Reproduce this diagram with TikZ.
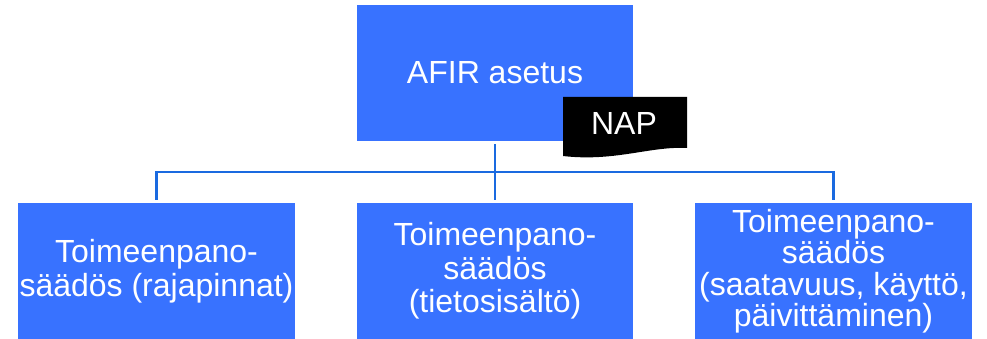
\documentclass[tikz,border=0pt]{standalone}
\usepackage{fontspec}
\setmainfont{Liberation Sans}
\definecolor{boxblue}{HTML}{3872FF}
\definecolor{lineblue}{HTML}{1A6AE0}
\begin{document}
\begin{tikzpicture}[x=1pt,y=1pt,
  blk/.style={fill=boxblue, draw=none, text=white, inner sep=0pt, align=center,
    minimum height=136pt, font=\fontsize{32}{33.5}\selectfont},
  conn/.style={draw=lineblue, line width=2.2pt, shorten <=3pt, shorten >=3pt}]
\useasboundingbox (0,0) rectangle (987,-339);
\node[blk, minimum width=276pt] (afir) at (495,-73) {AFIR asetus};
\node[blk, minimum width=277pt] (left) at (156.5,-271) {Toimeenpano-\\säädös (rajapinnat)};
\node[blk, minimum width=276pt] (mid) at (495,-271) {Toimeenpano-\\säädös\\(tietosisältö)};
\node[blk, minimum width=277pt, font=\fontsize{32}{31.5}\selectfont] (right) at (833.5,-271) {Toimeenpano-\\säädös\\(saatavuus, käyttö,\\päivittäminen)};
\coordinate (bus) at (495,-172);
\draw[conn] (afir.south) -- (mid.north);
\draw[conn] (left.north) |- (bus) -| (right.north);
\fill[black] (563,-97) -- (687,-97) -- (687,-148)
  .. controls (650,-146) and (615,-162) .. (563,-156) -- cycle;
\node[text=white, font=\fontsize{32}{34}\selectfont, inner sep=0pt] (nap) at (624,-123) {NAP};
\end{tikzpicture}
\end{document}
